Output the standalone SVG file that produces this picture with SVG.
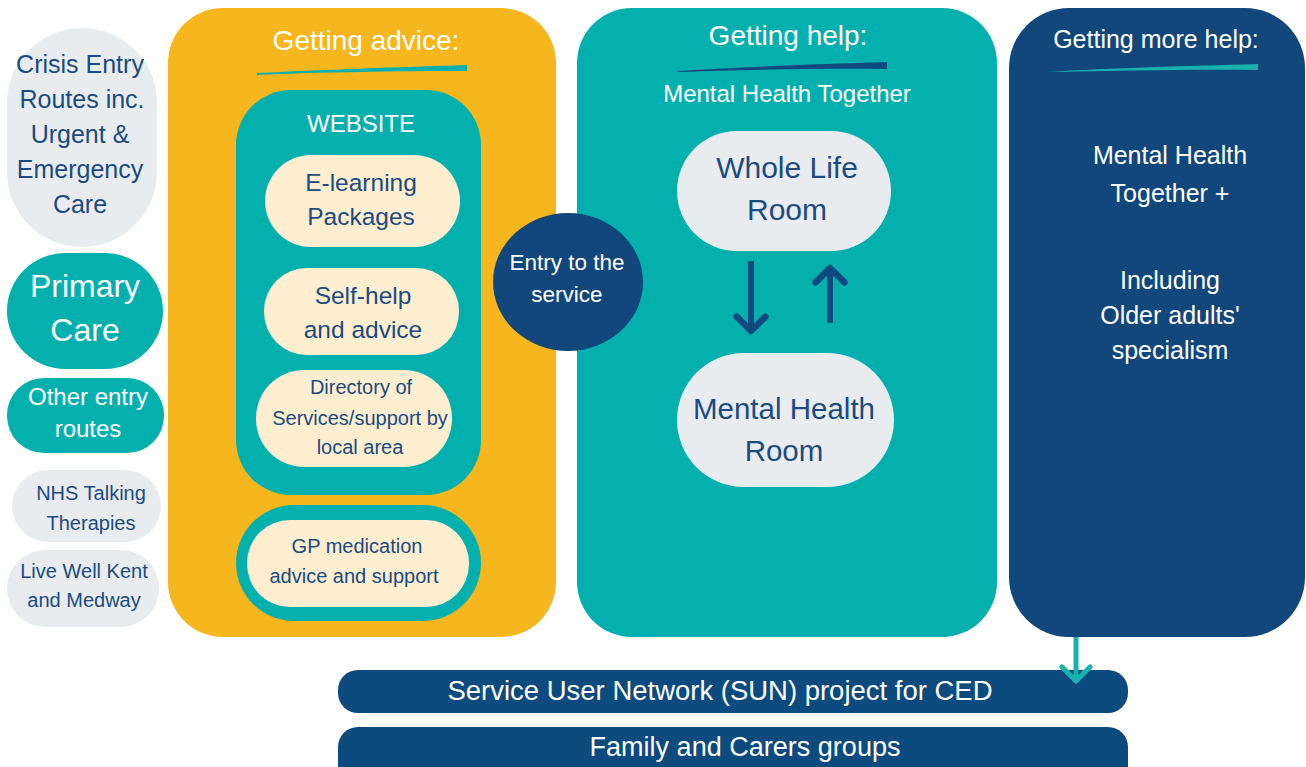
<svg xmlns="http://www.w3.org/2000/svg" width="1306" height="767" viewBox="0 0 1306 767">
<style>
text{font-family:"Liberation Sans",Arial,sans-serif;text-anchor:middle}
.w{fill:#fff}
.n{fill:#1B4B80}
.gray{fill:#E9ECEE}
.cream{fill:#FDEED0}
.teal{fill:#04B0AE}
.navy{fill:#12477B}
</style>
<defs>
<marker id="ah" viewBox="0 0 10 10" refX="5" refY="5" markerWidth="6" markerHeight="6" orient="auto" markerUnits="strokeWidth">
<path d="M1,1 L5,5 L1,9" fill="none" stroke="#0F4A7E" stroke-width="1.8" stroke-linecap="round" stroke-linejoin="round"/>
</marker>
<marker id="aht" viewBox="0 0 10 10" refX="5" refY="5" markerWidth="7" markerHeight="7" orient="auto" markerUnits="strokeWidth">
<path d="M1,1 L5,5 L1,9" fill="none" stroke="#19B1AD" stroke-width="1.5" stroke-linecap="round" stroke-linejoin="round"/>
</marker>
</defs>
<rect width="1306" height="767" fill="#fff"/>

<g id="panel-advice">
<rect x="168" y="8" width="388" height="629" rx="55" fill="#F5B61E"/>
<text x="366" y="50" class="w" font-size="28">Getting advice:</text>
<path d="M257,73 C320,70 400,67 467,65 L467,71 C400,71 320,72 257,75 Z" fill="#0AAFAE"/>
</g>

<g id="panel-help">
<rect x="577" y="8" width="420" height="629" rx="55" class="teal"/>
<text x="788" y="45" class="w" font-size="28">Getting help:</text>
<path d="M678,71 C740,67 820,64 887,62 L887,69 C820,68 740,70 678,72 Z" fill="#0F4A7E"/>
<text x="787" y="102" class="w" font-size="24">Mental Health Together</text>
</g>

<g id="panel-more">
<rect x="1009" y="8" width="296" height="629" rx="60" class="navy"/>
<text x="1156" y="48" class="w" font-size="25">Getting more help:</text>
<path d="M1048,72 C1110,68 1190,66 1258,64 L1258,70 C1190,69 1110,71 1048,72 Z" fill="#19B1AD"/>
<text x="1170" y="164" class="w" font-size="25">Mental Health</text>
<text x="1170" y="202" class="w" font-size="25">Together +</text>
<text x="1170" y="289" class="w" font-size="25">Including</text>
<text x="1170" y="324" class="w" font-size="25">Older adults'</text>
<text x="1170" y="359" class="w" font-size="25">specialism</text>
</g>

<g id="website">
<rect x="236" y="90" width="245" height="405" rx="55" class="teal"/>
<text x="361" y="132" class="w" font-size="24">WEBSITE</text>
</g>

<g id="elearning">
<rect x="265" y="155" width="195" height="92" rx="46" class="cream"/>
<text x="361" y="191" class="n" font-size="24.5">E-learning</text>
<text x="361" y="225" class="n" font-size="24.5">Packages</text>
</g>

<g id="selfhelp">
<rect x="264" y="268" width="195" height="87" rx="43" class="cream"/>
<text x="363" y="304" class="n" font-size="24.5">Self-help</text>
<text x="363" y="338" class="n" font-size="24.5">and advice</text>
</g>

<g id="directory">
<rect x="256" y="370" width="196" height="97" rx="48" class="cream"/>
<text x="361" y="394" class="n" font-size="20">Directory of</text>
<text x="360" y="425" class="n" font-size="20">Services/support  by</text>
<text x="360" y="454" class="n" font-size="20">local area</text>
</g>

<g id="gp">
<rect x="236" y="505" width="245" height="116" rx="58" class="teal"/>
<rect x="247" y="520" width="222" height="87" rx="43" class="cream"/>
<text x="357" y="553" class="n" font-size="20">GP medication</text>
<text x="354" y="583" class="n" font-size="20">advice  and support</text>
</g>

<g id="crisis">
<rect x="7" y="28" width="150" height="219" rx="75" class="gray"/>
<text x="80" y="73" class="n" font-size="25">Crisis Entry</text>
<text x="82" y="108" class="n" font-size="25">Routes inc.</text>
<text x="80" y="143" class="n" font-size="25">Urgent &amp;</text>
<text x="80" y="178" class="n" font-size="25">Emergency</text>
<text x="80" y="213" class="n" font-size="25">Care</text>
</g>

<g id="primary">
<rect x="7" y="253" width="156" height="116" rx="58" class="teal"/>
<text x="85" y="297" class="w" font-size="32">Primary</text>
<text x="85" y="341" class="w" font-size="32">Care</text>
</g>

<g id="other">
<rect x="7" y="378" width="157" height="75" rx="37" class="teal"/>
<text x="88" y="405" class="w" font-size="24">Other entry</text>
<text x="88" y="437" class="w" font-size="24">routes</text>
</g>

<g id="nhs">
<rect x="12" y="470" width="149" height="72" rx="36" class="gray"/>
<text x="91" y="500" class="n" font-size="20">NHS  Talking</text>
<text x="91" y="530" class="n" font-size="20">Therapies</text>
</g>

<g id="livewell">
<rect x="7" y="550" width="152" height="77" rx="38" class="gray"/>
<text x="84" y="578" class="n" font-size="20">Live Well Kent</text>
<text x="84" y="607" class="n" font-size="20">and Medway</text>
</g>

<g id="entry">
<ellipse cx="568" cy="282" rx="75" ry="69" fill="#12477B"/>
<text x="567" y="270" class="w" font-size="22.5">Entry to the</text>
<text x="567" y="302" class="w" font-size="22.5">service</text>
</g>

<g id="wholelife">
<rect x="677" y="131" width="214" height="120" rx="60" class="gray"/>
<text x="787" y="178" class="n" font-size="30">Whole Life</text>
<text x="787" y="220" class="n" font-size="30">Room</text>
</g>

<g id="mhroom">
<rect x="677" y="353" width="217" height="134" rx="67" class="gray"/>
<text x="784" y="419" class="n" font-size="29.5">Mental Health</text>
<text x="784" y="461" class="n" font-size="29.5">Room</text>
</g>

<g id="sun">
<rect x="338" y="670" width="790" height="43" rx="20" fill="#0D4A7E"/>
<text x="720" y="700" class="w" font-size="27" textLength="545" lengthAdjust="spacingAndGlyphs">Service User Network (SUN) project for CED</text>
</g>

<g id="family">
<rect x="338" y="727" width="790" height="60" rx="20" fill="#0D4A7E"/>
<text x="745" y="756" class="w" font-size="27" textLength="311" lengthAdjust="spacingAndGlyphs">Family  and Carers groups</text>
</g>

<g id="connectors">
<line x1="751" y1="261" x2="751" y2="331" stroke="#0F4A7E" stroke-width="6" marker-end="url(#ah)"/>
<line x1="830" y1="323" x2="830" y2="268" stroke="#0F4A7E" stroke-width="6" marker-end="url(#ah)"/>
<line x1="1076" y1="637" x2="1076" y2="681" stroke="#19B1AD" stroke-width="5" marker-end="url(#aht)"/>
</g>
</svg>
